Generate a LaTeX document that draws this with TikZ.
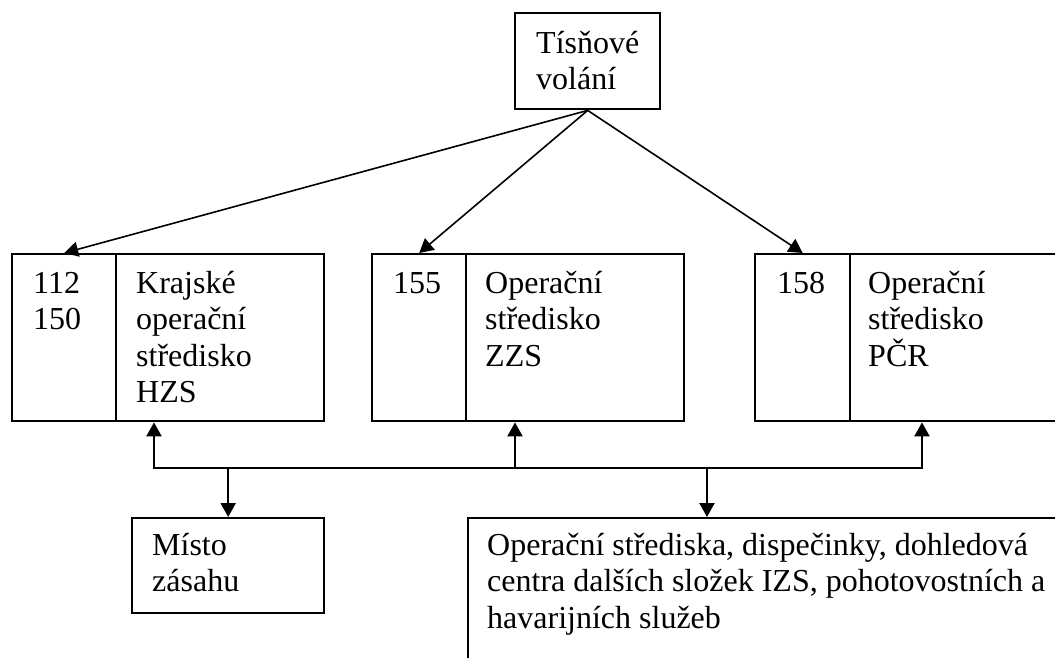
\documentclass[tikz,border=0pt]{standalone}
\usepackage{fontspec}
\setmainfont{Liberation Serif}
\usetikzlibrary{arrows.meta}
\newcommand{\topline}{\rule{0pt}{32pt}}

\begin{document}
\begin{tikzpicture}[x=1pt, y=1pt, >={Triangle[length=14pt, width=15pt]},
    box/.style={draw, line width=2.4pt, inner sep=0pt, anchor=north west},
    txt/.style={anchor=north west, inner sep=0pt, align=left,
      font=\fontsize{32pt}{36.5pt}\selectfont},
    arr/.style={line width=2.2pt, ->}]
  \useasboundingbox (0,0) rectangle (1055,-657);
  \clip (0,0) rectangle (1055,-657);
  % boxes
  \node[box, minimum width=145pt, minimum height=96pt]  (call)   at (514,-12)  {};
  \node[box, minimum width=104pt, minimum height=167pt] (hzsnum) at (11,-253)  {};
  \node[box, minimum width=208pt, minimum height=167pt] (hzs)    at (115,-253) {};
  \node[box, minimum width=94pt,  minimum height=167pt] (zzsnum) at (371,-253) {};
  \node[box, minimum width=218pt, minimum height=167pt] (zzs)    at (465,-253) {};
  \node[box, minimum width=95pt,  minimum height=167pt] (pcrnum) at (754,-253) {};
  \node[box, minimum width=260pt, minimum height=167pt] (pcr)    at (849,-253) {};
  \node[box, minimum width=192pt, minimum height=95pt]  (misto)  at (131,-517) {};
  \node[box, minimum width=640pt, minimum height=200pt] (other)  at (467,-517) {};
  % texts
  \node[txt] (calltext)   at ([shift={(22,-9)}]call.north west)   {\topline Tísňové\\volání};
  \node[txt] (hzsnumtext) at ([shift={(22,-8)}]hzsnum.north west) {\topline 112\\150};
  \node[txt] (hzstext)    at ([shift={(21,-8)}]hzs.north west)    {\topline Krajské\\operační\\středisko\\HZS};
  \node[txt] (zzsnumtext) at ([shift={(22,-8)}]zzsnum.north west) {\topline 155};
  \node[txt] (zzstext)    at ([shift={(20,-8)}]zzs.north west)    {\topline Operační\\středisko\\ZZS};
  \node[txt] (pcrnumtext) at ([shift={(23,-8)}]pcrnum.north west) {\topline 158};
  \node[txt] (pcrtext)    at ([shift={(19,-8)}]pcr.north west)    {\topline Operační\\středisko\\PČR};
  \node[txt] (mistotext)  at ([shift={(21,-6)}]misto.north west)  {\topline Místo\\zásahu};
  \node[txt] (othertext)  at ([shift={(20,-6)}]other.north west)
    {\topline Operační střediska, dispečinky, dohledová\\centra dalších složek IZS, pohotovostních a\\havarijních služeb};
  % calls
  \draw[arr, line width=1.6pt] (call.south) -- (hzsnum.north);
  \draw[arr, line width=1.6pt] (call.south) -- (zzsnum.north);
  \draw[arr, line width=1.6pt] (call.south) -- (pcrnum.north);
  % bus
  \coordinate (busL) at (154,-468);
  \coordinate (busM) at (515,-468);
  \coordinate (busR) at (922,-468);
  \coordinate (busO) at (707,-468);
  \draw[line width=2.2pt, <->] (busL |- hzs.south) -- (busL) -- (busR) -- (busR |- pcr.south);
  \draw[arr] (busM) -- (busM |- zzs.south);
  \draw[arr] (misto.north |- busL) -- (misto.north);
  \draw[arr] (busO) -- (busO |- other.north);
\end{tikzpicture}
\end{document}
